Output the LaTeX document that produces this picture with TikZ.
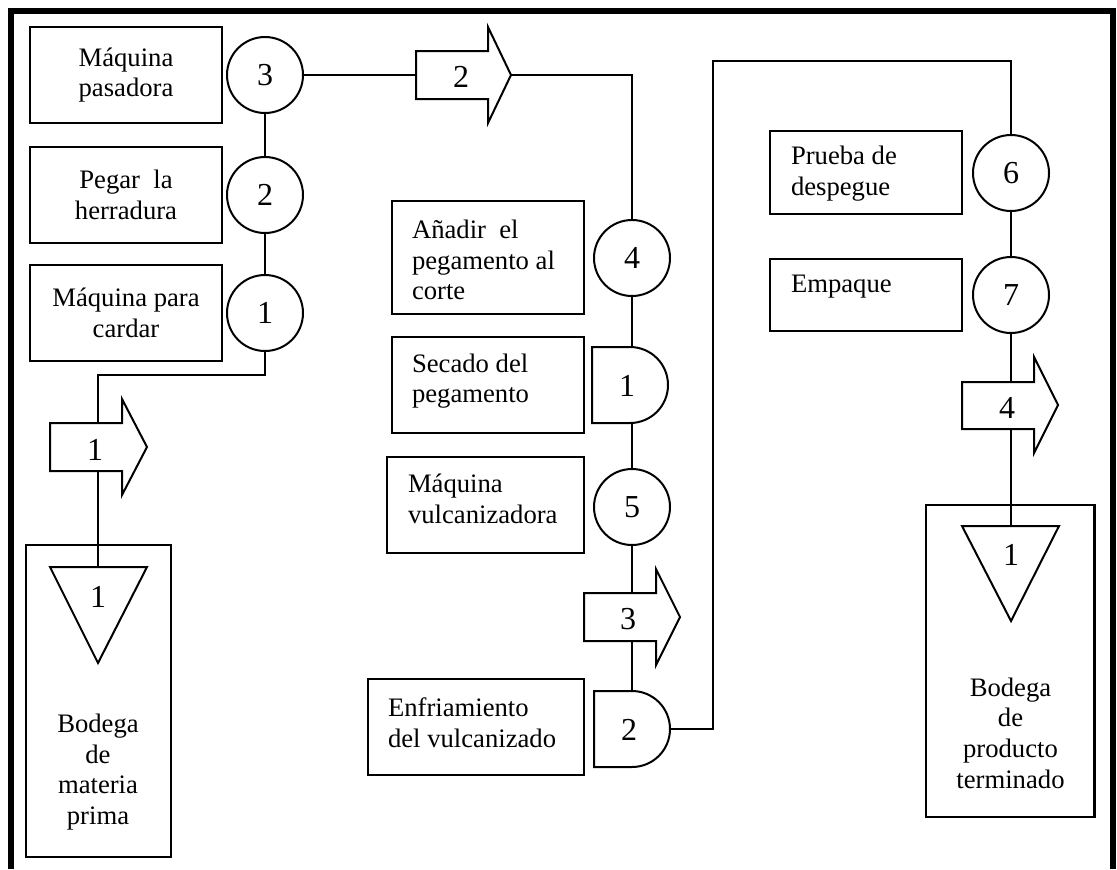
\documentclass[tikz,border=0pt]{standalone}
\usepackage{fontspec}
\setmainfont{Liberation Serif}
\newcommand{\flowtxt}{\fontsize{20}{23}\selectfont}
\newcommand{\flownum}{\fontsize{24}{28}\selectfont}
\begin{document}
\begin{tikzpicture}[x=0.75pt, y=-0.75pt,
  line width=1.5pt,
  every node/.style={inner sep=0pt, outer sep=0pt},
  procbox/.style={draw, rectangle, line width=1.6pt},
  opcircle/.style={draw, circle, minimum size=57pt, font=\flownum},
  numlbl/.style={font=\flownum},
  ctxt/.style={font=\flowtxt, align=center},
  ltxt/.style={font=\flowtxt, align=left, anchor=west},
  figura/.style={draw, fill=white, line join=miter},
  marco/.style={line width=4.5pt, line join=miter}
]
\useasboundingbox (0,0) rectangle (1117,869);

% outer frame, open at the bottom
\draw[marco] (11,869) -- (11,11) -- (1113,11) -- (1113,869);

% ---- first column: operations 3, 2, 1 ----
\node[procbox, ctxt, minimum width=144pt, minimum height=72pt] (bA) at (126,75) {Máquina\\pasadora};
\node[procbox, ctxt, minimum width=144pt, minimum height=72pt] (bB) at (126,195) {Pegar\ \ la\\herradura};
\node[procbox, ctxt, minimum width=144pt, minimum height=72pt] (bC) at (126,313) {Máquina para\\cardar};
\node[opcircle] (c3) at (265,75) {3};
\node[opcircle] (c2) at (265,195) {2};
\node[opcircle] (c1) at (265,313) {1};

% raw material store
\node[procbox, minimum width=108.75pt, minimum height=234pt] (s1) at (98.5,701) {};
\node[ctxt] (ts1) at (98,772) {Bodega\\de\\materia\\prima};

% ---- second column: operations 4, 5 and delays ----
\node[procbox, minimum width=144pt, minimum height=84.75pt] (bD) at (488,257.5) {};
\node[ltxt] (tD) at (412,260) {Añadir\ \ el\\pegamento al\\corte};
\node[procbox, minimum width=144pt, minimum height=72pt] (bE) at (488,385) {};
\node[ltxt] (tE) at (412,381) {Secado del\\pegamento};
\node[procbox, minimum width=147.75pt, minimum height=72pt] (bF) at (485.5,505) {};
\node[ltxt] (tF) at (408,499) {Máquina\\vulcanizadora};
\node[procbox, minimum width=162pt, minimum height=72pt] (bG) at (476,727) {};
\node[ltxt] (tG) at (388,722.5) {Enfriamiento\\del vulcanizado};
\node[opcircle] (c4) at (632,258) {4};
\node[opcircle] (c5) at (632,507) {5};

% ---- third column: operations 6, 7 ----
\node[procbox, minimum width=144pt, minimum height=62.25pt] (bH) at (866,172.5) {};
\node[ltxt] (tH) at (791,173.5) {Prueba de\\despegue};
\node[procbox, minimum width=144pt, minimum height=54pt] (bI) at (866,295) {};
\node[ltxt] (tI) at (791,287) {Empaque};
\node[opcircle] (c6) at (1011,173) {6};
\node[opcircle] (c7) at (1011,295) {7};

% finished product store
\node[procbox, minimum width=126.4pt, minimum height=234pt] (s2) at (1010.25,661) {};
\node[ctxt] (ts2) at (1010.5,733) {Bodega\\de\\producto\\terminado};

% ---- connector points ----
\coordinate (k1) at (98,375);
\coordinate (t1top) at (98,567);
\coordinate (a2in) at (416,75);
\coordinate (a2tip) at (511,75);
\coordinate (d1top) at (632,347);
\coordinate (d1bot) at (632,423);
\coordinate (d2top) at (632,691);
\coordinate (d2out) at (670,729);
\coordinate (k2) at (713,729);
\coordinate (k3) at (1011,61);
\coordinate (t2top) at (1011,526);

% ---- flow lines ----
\draw (c3) -- (c2);
\draw (c2) -- (c1);
\draw (c1) |- (k1) -- (t1top);
\draw (c3) -- (a2in);
\draw (a2tip) -| (c4);
\draw (c4) -- (d1top);
\draw (d1bot) -- (c5);
\draw (c5) -- (d2top);
\draw (d2out) -- (k2) |- (k3) -- (c6);
\draw (c6) -- (c7);
\draw (c7) -- (t2top);

% ---- transport arrows ----
\draw[figura] (50,423) -- (122,423) -- (122,399) -- (147,447) -- (122,495) -- (122,471) -- (50,471) -- cycle;
\node[numlbl] (a1) at (95,450) {1};
\draw[figura] (416,51) -- (488,51) -- (488,27) -- (511,75) -- (488,123) -- (488,99) -- (416,99) -- cycle;
\node[numlbl] (a2) at (461,77) {2};
\draw[figura] (584,593) -- (656,593) -- (656,569) -- (680,617) -- (656,665) -- (656,641) -- (584,641) -- cycle;
\node[numlbl] (a3) at (628,619) {3};
\draw[figura] (962,382) -- (1034,382) -- (1034,357) -- (1058,405) -- (1034,453) -- (1034,429) -- (962,429) -- cycle;
\node[numlbl] (a4) at (1007,408) {4};

% ---- storage triangles ----
\draw[figura] (50,567) -- (147,567) -- (98,663) -- cycle;
\node[numlbl] (t1) at (98,597) {1};
\draw[figura] (962,526) -- (1059,526) -- (1011,621) -- cycle;
\node[numlbl] (t2) at (1011,555) {1};

% ---- delays ----
\draw[figura] (592,347) -- (630,347) arc[start angle=90, end angle=-90, radius=28.5pt] -- (592,423) -- cycle;
\node[numlbl] (d1) at (627,386) {1};
\draw[figura] (594,691) -- (632,691) arc[start angle=90, end angle=-90, radius=28.5pt] -- (594,767) -- cycle;
\node[numlbl] (d2) at (629,730) {2};
\end{tikzpicture}
\end{document}
